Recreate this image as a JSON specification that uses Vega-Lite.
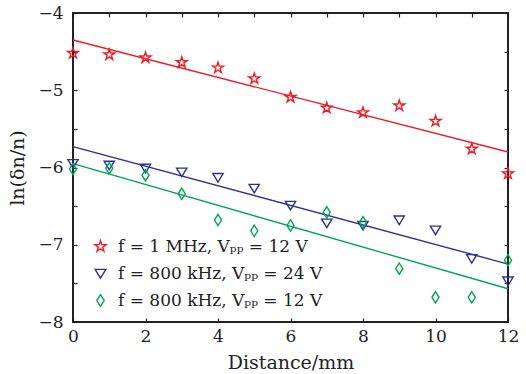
{
  "$schema": "https://vega.github.io/schema/vega-lite/v6.json",
  "width": 435,
  "height": 309,
  "autosize": {"type": "none"},
  "padding": {"left": 73, "top": 13, "right": 18, "bottom": 52},
  "background": "white",
  "datasets": {
    "points": [
      {"series": "f = 1 MHz, Vₚₚ = 12 V", "distance": 0, "value": -4.52},
      {"series": "f = 1 MHz, Vₚₚ = 12 V", "distance": 1, "value": -4.54},
      {"series": "f = 1 MHz, Vₚₚ = 12 V", "distance": 2, "value": -4.58},
      {"series": "f = 1 MHz, Vₚₚ = 12 V", "distance": 3, "value": -4.64},
      {"series": "f = 1 MHz, Vₚₚ = 12 V", "distance": 4, "value": -4.71},
      {"series": "f = 1 MHz, Vₚₚ = 12 V", "distance": 5, "value": -4.85},
      {"series": "f = 1 MHz, Vₚₚ = 12 V", "distance": 6, "value": -5.09},
      {"series": "f = 1 MHz, Vₚₚ = 12 V", "distance": 7, "value": -5.23},
      {"series": "f = 1 MHz, Vₚₚ = 12 V", "distance": 8, "value": -5.29},
      {"series": "f = 1 MHz, Vₚₚ = 12 V", "distance": 9, "value": -5.20},
      {"series": "f = 1 MHz, Vₚₚ = 12 V", "distance": 10, "value": -5.40},
      {"series": "f = 1 MHz, Vₚₚ = 12 V", "distance": 11, "value": -5.76},
      {"series": "f = 1 MHz, Vₚₚ = 12 V", "distance": 12, "value": -6.08},
      {"series": "f = 800 kHz, Vₚₚ = 24 V", "distance": 0, "value": -5.95},
      {"series": "f = 800 kHz, Vₚₚ = 24 V", "distance": 1, "value": -5.97},
      {"series": "f = 800 kHz, Vₚₚ = 24 V", "distance": 2, "value": -6.01},
      {"series": "f = 800 kHz, Vₚₚ = 24 V", "distance": 3, "value": -6.06},
      {"series": "f = 800 kHz, Vₚₚ = 24 V", "distance": 4, "value": -6.13},
      {"series": "f = 800 kHz, Vₚₚ = 24 V", "distance": 5, "value": -6.27},
      {"series": "f = 800 kHz, Vₚₚ = 24 V", "distance": 6, "value": -6.49},
      {"series": "f = 800 kHz, Vₚₚ = 24 V", "distance": 7, "value": -6.72},
      {"series": "f = 800 kHz, Vₚₚ = 24 V", "distance": 8, "value": -6.75},
      {"series": "f = 800 kHz, Vₚₚ = 24 V", "distance": 9, "value": -6.68},
      {"series": "f = 800 kHz, Vₚₚ = 24 V", "distance": 10, "value": -6.81},
      {"series": "f = 800 kHz, Vₚₚ = 24 V", "distance": 11, "value": -7.18},
      {"series": "f = 800 kHz, Vₚₚ = 24 V", "distance": 12, "value": -7.47},
      {"series": "f = 800 kHz, Vₚₚ = 12 V", "distance": 0, "value": -6.02},
      {"series": "f = 800 kHz, Vₚₚ = 12 V", "distance": 1, "value": -6.01},
      {"series": "f = 800 kHz, Vₚₚ = 12 V", "distance": 2, "value": -6.10},
      {"series": "f = 800 kHz, Vₚₚ = 12 V", "distance": 3, "value": -6.34},
      {"series": "f = 800 kHz, Vₚₚ = 12 V", "distance": 4, "value": -6.68},
      {"series": "f = 800 kHz, Vₚₚ = 12 V", "distance": 5, "value": -6.82},
      {"series": "f = 800 kHz, Vₚₚ = 12 V", "distance": 6, "value": -6.75},
      {"series": "f = 800 kHz, Vₚₚ = 12 V", "distance": 7, "value": -6.58},
      {"series": "f = 800 kHz, Vₚₚ = 12 V", "distance": 8, "value": -6.71},
      {"series": "f = 800 kHz, Vₚₚ = 12 V", "distance": 9, "value": -7.31},
      {"series": "f = 800 kHz, Vₚₚ = 12 V", "distance": 10, "value": -7.68},
      {"series": "f = 800 kHz, Vₚₚ = 12 V", "distance": 11, "value": -7.68},
      {"series": "f = 800 kHz, Vₚₚ = 12 V", "distance": 12, "value": -7.20}
    ],
    "fits": [
      {"series": "f = 1 MHz, Vₚₚ = 12 V", "distance": 0, "value": -4.35},
      {"series": "f = 1 MHz, Vₚₚ = 12 V", "distance": 12, "value": -5.80},
      {"series": "f = 800 kHz, Vₚₚ = 24 V", "distance": 0, "value": -5.73},
      {"series": "f = 800 kHz, Vₚₚ = 24 V", "distance": 12, "value": -7.25},
      {"series": "f = 800 kHz, Vₚₚ = 12 V", "distance": 0, "value": -5.95},
      {"series": "f = 800 kHz, Vₚₚ = 12 V", "distance": 12, "value": -7.57}
    ]
  },
  "layer": [
    {
      "data": {"name": "fits"},
      "mark": {"type": "line", "strokeWidth": 1.4, "clip": false},
      "encoding": {
        "x": {"field": "distance", "type": "quantitative",
              "scale": {"domain": [0, 12], "nice": false, "zero": false},
              "axis": {"orient": "top", "labels": false, "title": null, "values": [0, 1, 2, 3, 4, 5, 6, 7, 8, 9, 10, 11, 12]}},
        "y": {"field": "value", "type": "quantitative",
              "scale": {"domain": [-8, -4], "nice": false, "zero": false},
              "axis": {"orient": "right", "labels": false, "title": null, "values": [-8, -7.5, -7, -6.5, -6, -5.5, -5, -4.5, -4]}},
        "color": {"field": "series", "type": "nominal",
                  "scale": {"domain": ["f = 1 MHz, Vₚₚ = 12 V", "f = 800 kHz, Vₚₚ = 24 V", "f = 800 kHz, Vₚₚ = 12 V"],
                            "range": ["#ee1c25", "#2e3192", "#00a651"]}}
      }
    },
    {
      "data": {"name": "points"},
      "mark": {"type": "point", "filled": false, "strokeWidth": 1.4, "size": 130, "opacity": 1, "clip": false},
      "encoding": {
        "x": {"field": "distance", "type": "quantitative",
              "scale": {"domain": [0, 12], "nice": false, "zero": false},
              "axis": {"orient": "bottom", "title": "Distance/mm", "values": [0, 2, 4, 6, 8, 10, 12], "format": "d", "labelFlush": false}},
        "y": {"field": "value", "type": "quantitative",
              "scale": {"domain": [-8, -4], "nice": false, "zero": false},
              "axis": {"orient": "left", "title": "ln(δn/n)", "labelFlush": false, "labelPadding": 14,
                       "values": [-8, -7.5, -7, -6.5, -6, -5.5, -5, -4.5, -4],
                       "labelExpr": "datum.value % 1 == 0 ? '−' + abs(datum.value) : ''"}},
        "color": {"field": "series", "type": "nominal",
                  "legend": {"title": null, "orient": "none", "legendX": 19, "legendY": 225,
                             "encode": {"symbols": {"update": {"fill": {"value": "transparent"}, "strokeWidth": {"value": 1.4}}}}}},
        "shape": {"field": "series", "type": "nominal",
                  "scale": {"domain": ["f = 1 MHz, Vₚₚ = 12 V", "f = 800 kHz, Vₚₚ = 24 V", "f = 800 kHz, Vₚₚ = 12 V"],
                            "range": ["M0,-1L0.225,-0.309L0.951,-0.309L0.363,0.118L0.588,0.809L0,0.382L-0.588,0.809L-0.363,0.118L-0.951,-0.309L-0.225,-0.309Z",
                                      "M-0.9,-0.7L0.9,-0.7L0,0.8Z",
                                      "M0,-1L0.62,0L0,1L-0.62,0Z"]},
                  "legend": {"title": null, "orient": "none", "legendX": 19, "legendY": 225,
                             "encode": {"symbols": {"update": {"fill": {"value": "transparent"}, "strokeWidth": {"value": 1.4}}}}}}
      }
    }
  ],
  "resolve": {"axis": {"x": "independent", "y": "independent"}},
  "config": {
    "view": {"stroke": "#222", "strokeWidth": 2},
    "axis": {
      "domain": false,
      "grid": false,
      "ticks": true,
      "tickSize": -4,
      "tickColor": "#222",
      "tickWidth": 1.2,
      "labelFont": "DejaVu Serif",
      "labelFontSize": 17,
      "labelColor": "#222",
      "labelPadding": 10,
      "titleFont": "DejaVu Serif",
      "titleFontSize": 19,
      "titleFontWeight": "normal",
      "titleColor": "#222"
    },
    "axisBottom": {"titlePadding": 9},
    "axisLeft": {"titlePadding": 10},
    "legend": {
      "padding": 0,
      "labelFont": "DejaVu Serif",
      "labelFontSize": 17,
      "labelColor": "#222",
      "labelOffset": 9,
      "rowPadding": 9,
      "symbolSize": 140,
      "symbolStrokeWidth": 1.4,
      "labelLimit": 400
    }
  }
}
